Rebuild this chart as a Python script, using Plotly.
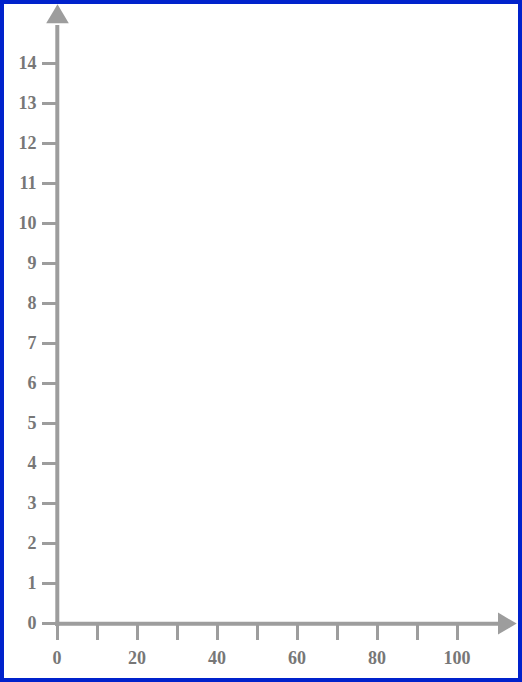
import plotly.graph_objects as go

x_major_ticks = [0, 20, 40, 60, 80, 100]
x_minor_ticks = [0, 10, 20, 30, 40, 50, 60, 70, 80, 90, 100]
y_ticks = list(range(0, 15))

W, H = 522, 682
L, R, T, B = 57, 24, 23, 59
pw, ph = W - L - R, H - T - B
x_scale, y_scale = 4.0, 40.0   # px per unit
x_range = [0, pw / x_scale]
y_range = [0, ph / y_scale]

gray = "#9d9d9d"
label_color = "#777777"
font = dict(family="Liberation Serif", size=18, color=label_color, weight="bold")

def px(x):
    return (x - L) / pw

def py(y):
    return 1 - (y - T) / ph

fig = go.Figure(go.Scatter(x=[], y=[], mode="markers"))

fig.update_layout(
    width=W, height=H,
    margin=dict(l=L, r=R, t=T, b=B, pad=0),
    paper_bgcolor="white", plot_bgcolor="white",
    showlegend=False,
    xaxis=dict(range=x_range, showgrid=False, zeroline=False, showline=False,
               tickmode="array", tickvals=x_major_ticks,
               ticks="outside", ticklen=16, tickwidth=3, tickcolor=gray,
               tickfont=font, ticklabelstandoff=2,
               minor=dict(tickmode="array", tickvals=x_minor_ticks, ticks="outside",
                          ticklen=16, tickwidth=3, tickcolor=gray, showgrid=False)),
    yaxis=dict(range=y_range, showgrid=False, zeroline=False, showline=False,
               tickmode="array", tickvals=y_ticks,
               ticks="outside", ticklen=14, tickwidth=3, tickcolor=gray,
               tickfont=font, ticklabelstandoff=2),
    shapes=[
        # y axis line
        dict(type="line", xref="paper", yref="paper",
             x0=px(57.3), x1=px(57.3), y0=py(626), y1=py(T + 2),
             line=dict(color=gray, width=4)),
        # x axis line
        dict(type="line", xref="paper", yref="paper",
             x0=px(55), x1=px(500), y0=py(623.8), y1=py(623.8),
             line=dict(color=gray, width=4)),
        # y arrow head
        dict(type="path", xref="paper", yref="paper",
             path=f"M {px(46.2)},{py(23.3)} L {px(57.5)},{py(4.3)} L {px(68.8)},{py(23.3)} Z",
             fillcolor=gray, line=dict(width=0)),
        # x arrow head
        dict(type="path", xref="paper", yref="paper",
             path=f"M {px(498)},{py(612.6)} L {px(516.7)},{py(623.6)} L {px(498)},{py(634.6)} Z",
             fillcolor=gray, line=dict(width=0)),
        # border
        dict(type="rect", xref="paper", yref="paper",
             x0=px(2), x1=px(520), y0=py(2), y1=py(680),
             line=dict(color="#0022cc", width=4)),
    ],
)

fig.write_html("out.html", config={"displayModeBar": False},
               post_script="document.body.style.margin='0';document.body.style.overflow='hidden';")
